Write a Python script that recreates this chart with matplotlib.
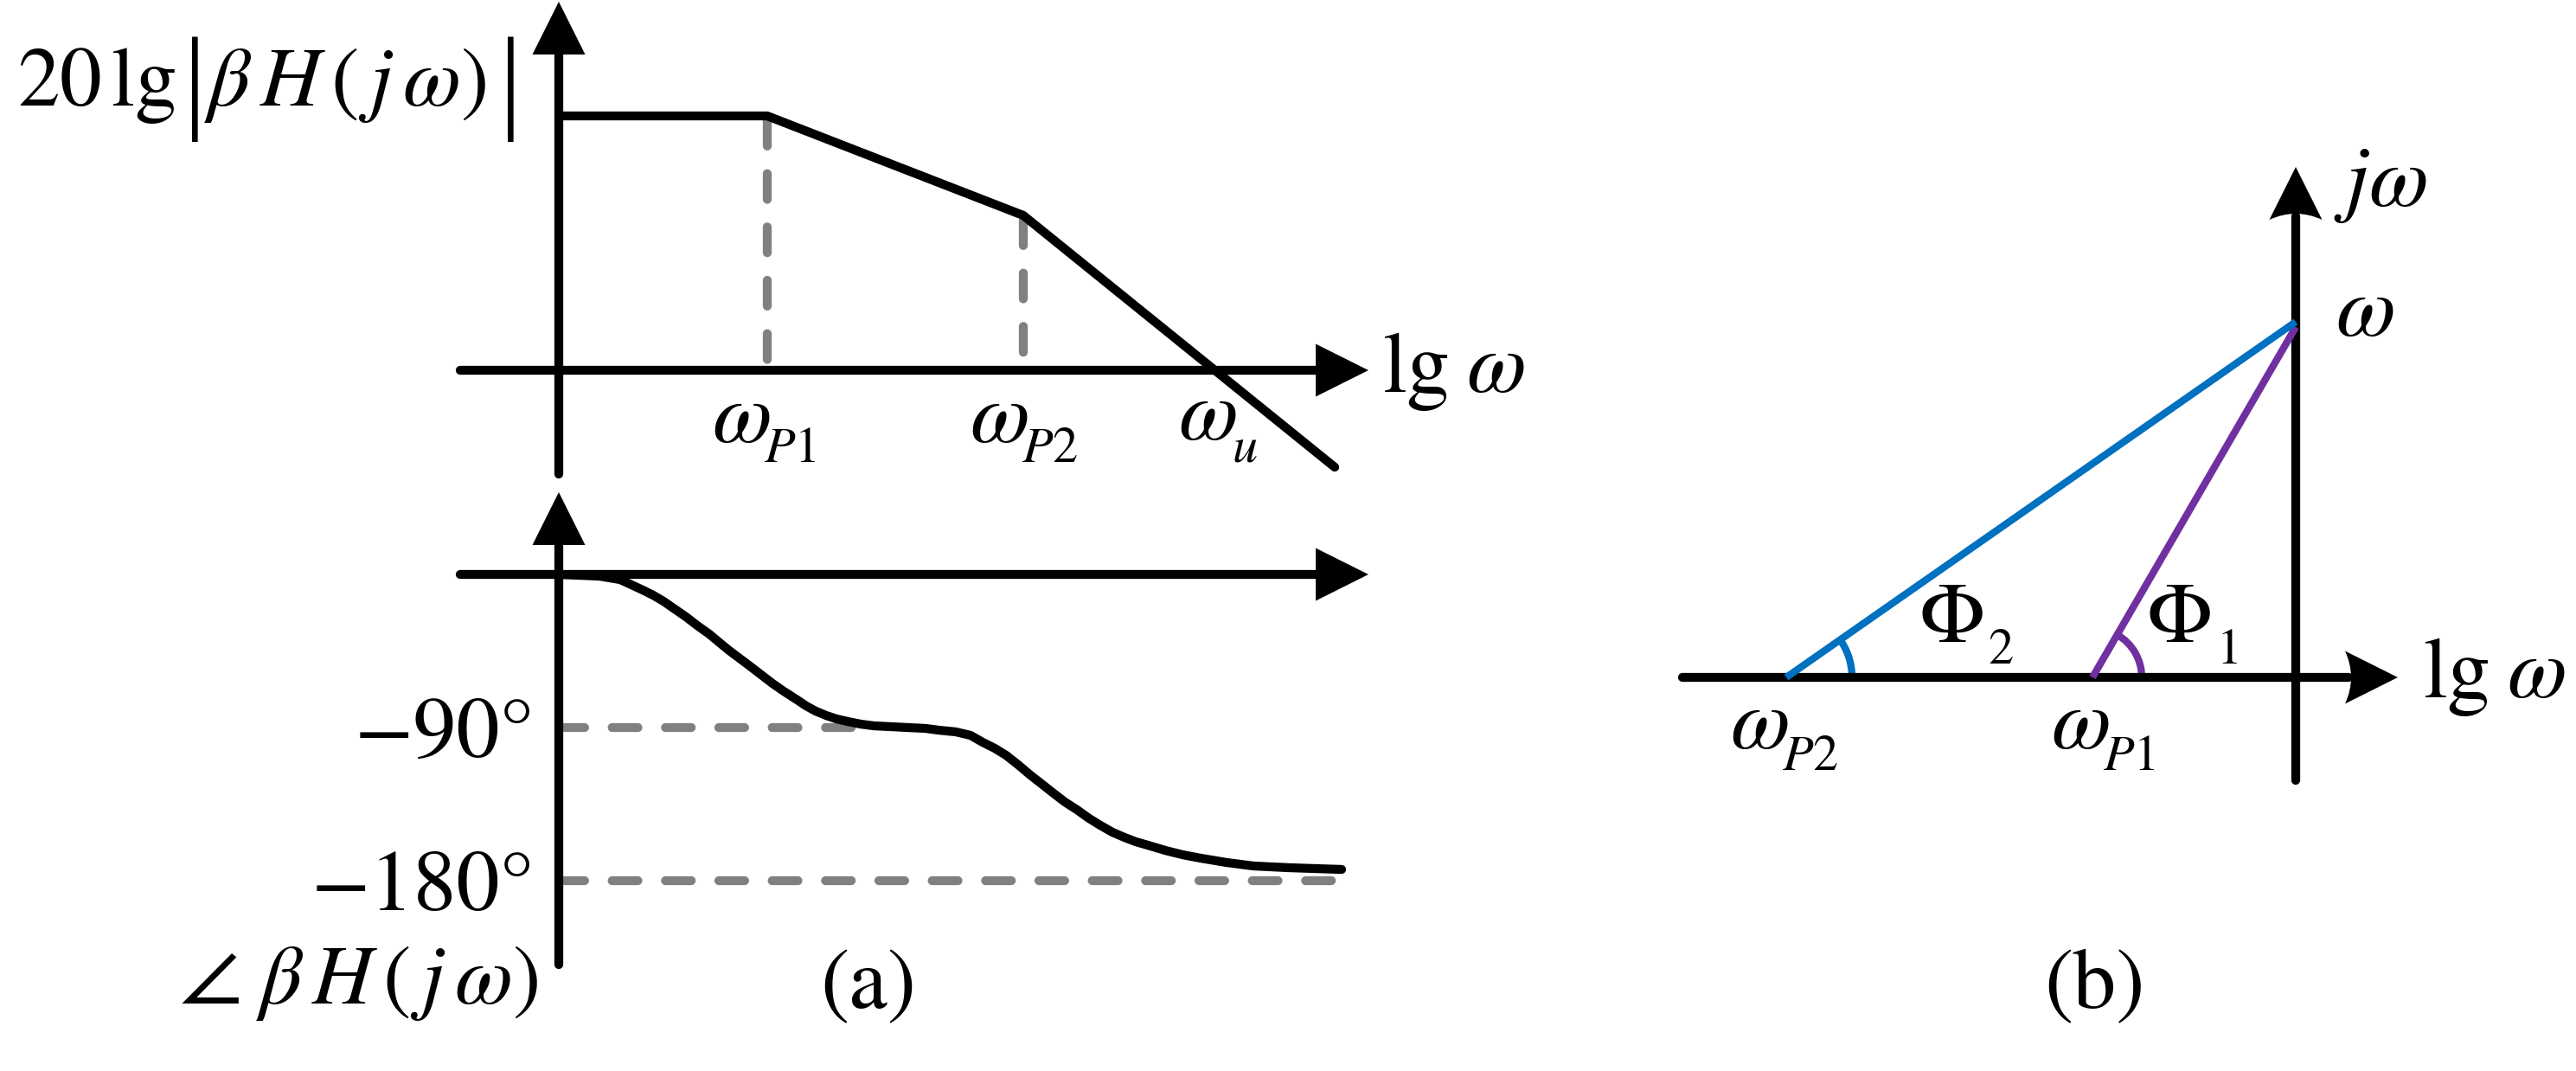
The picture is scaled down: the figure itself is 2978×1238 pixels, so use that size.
import numpy as np
import matplotlib.pyplot as plt
from matplotlib.patches import Arc, PathPatch
from matplotlib.path import Path

plt.rcParams['mathtext.fontset'] = 'stix'
plt.rcParams['font.family'] = ['STIXGeneral', 'DejaVu Sans']

# sketch geometry in pixels of the 2978x1238 reference, y grows downward
W, H = 2978, 1238

# panel (a)
axis_x = 646
mag_axis_y = 428
phase_axis_y = 664
h_axis_x = [532, 1582]          # left end, arrow tip
mag_v_axis_y = [548, 2]         # bottom, arrow tip
phase_v_axis_y = [1115, 569]

mag_x = [646, 887, 1183, 1543]
mag_y = [134, 134, 249, 540]

pole_x = [887, 1183]            # omega_P1, omega_P2
pole_y = [134, 249]

phase_x = [646, 670, 693, 705, 717, 730, 743, 755, 767, 780, 793, 806, 820,
           832, 843, 855, 867, 880, 893, 906, 920, 932, 943, 955, 967, 980,
           995, 1010, 1030, 1050, 1070, 1085, 1105, 1122, 1136, 1150, 1163,
           1177, 1190, 1204, 1218, 1231, 1245, 1259, 1272, 1286, 1300, 1313,
           1327, 1347, 1367, 1388, 1418, 1449, 1490, 1551]
phase_y = [664, 665, 666, 668, 670, 676, 682, 688, 695, 704, 713, 723, 733,
           743, 752, 761, 770, 780, 790, 799, 808, 816, 822, 827, 831, 834,
           837, 839, 840, 841, 842, 844, 846, 850, 858, 865, 873,
           884, 895, 906, 917, 927, 936, 946, 954, 962, 968, 973,
           977, 983, 988, 992, 997, 1001, 1003, 1005]

ref_labels = ['\u221290\u00b0', '\u2212180\u00b0']
ref_y = [841, 1018]
ref_end_x = [1000, 1551]

# panel (b)
b_x0 = 2654
b_y0 = 783
b_h_axis_x = [1945, 2772]
b_v_axis_y = [902, 193]
b_pole_x = [2419, 2065]         # omega_P1 (purple), omega_P2 (blue)
b_omega_y = [378, 372]
b_colors = ['#7030A0', '#0070C0']
b_arc_r = [57, 76]
b_phi = ['1', '2']

BLACK = 'black'
GRAY = '#808080'
LW = 7.4          # ~10 px
LW_C = 6.0        # coloured lines
FS = 72
FS_SUB = 42

fig = plt.figure(figsize=(W / 100, H / 100), dpi=100)
ax = fig.add_axes([0, 0, 1, 1])
ax.set_xlim(0, W)
ax.set_ylim(H, 0)
ax.axis('off')


def arrow(x0, y0, x1, y1, notch=0.0, length=61, half=30.5):
    d = np.array([x1 - x0, y1 - y0], float)
    d /= np.hypot(*d)
    n = np.array([-d[1], d[0]])
    tip = np.array([x1, y1], float)
    base = tip - length * d
    ax.plot([x0, base[0] + 4 * d[0]], [y0, base[1] + 4 * d[1]], color=BLACK,
            lw=LW, solid_capstyle='round')
    c1 = base + half * n
    c2 = base - half * n
    if notch:
        ctrl = base + 2 * notch * d
        verts = [tip, c1, ctrl, c2, tip]
        codes = [Path.MOVETO, Path.LINETO, Path.CURVE3, Path.CURVE3, Path.CLOSEPOLY]
    else:
        verts = [tip, c1, c2, tip]
        codes = [Path.MOVETO, Path.LINETO, Path.LINETO, Path.CLOSEPOLY]
    ax.add_patch(PathPatch(Path(verts, codes), fc=BLACK, ec='none'))


dash = dict(color=GRAY, lw=LW, linestyle=(0, (2.9, 3.1)), dash_capstyle='round')

# ---- (a) magnitude
for px, py in zip(pole_x, pole_y):
    ax.plot([px, px], [py + 5, mag_axis_y - 2], **dash)
arrow(h_axis_x[0], mag_axis_y, h_axis_x[1], mag_axis_y)
arrow(axis_x, mag_v_axis_y[0], axis_x, mag_v_axis_y[1])
ax.plot(mag_x, mag_y, color=BLACK, lw=LW, solid_capstyle='round')

# ---- (a) phase
for lab, ry, rx in zip(ref_labels, ref_y, ref_end_x):
    ax.plot([axis_x, rx], [ry, ry], **dash)
    ax.text(618, ry + 34, lab, fontsize=FS, ha='right', va='baseline')
arrow(h_axis_x[0], phase_axis_y, h_axis_x[1], phase_axis_y)
arrow(axis_x, phase_v_axis_y[0], axis_x, phase_v_axis_y[1])
ax.plot(phase_x, phase_y, color=BLACK, lw=LW, solid_capstyle='round')

# ---- (a) text
ax.text(20, 122, r'$\mathrm{20\,lg}$', fontsize=FS - 2, ha='left', va='baseline')
for bx in [225, 590]:
    ax.text(bx, 136, '|', fontsize=96, family='Liberation Serif',
            ha='center', va='baseline')
ax.text(236, 122, r'$\beta\,H\,(\,j\,\omega)$', fontsize=FS - 2, ha='left', va='baseline')
ax.text(1598, 453, r'$\mathrm{lg}\;\omega$', fontsize=FS, ha='left', va='baseline')
for lx, sub in zip([823, 1121], ['P1', 'P2']):
    ax.text(lx, 511, r'$\omega$', fontsize=FS, ha='left', va='baseline')
    ax.text(lx + 60, 534, r'$P$' + sub[1], fontsize=FS_SUB, ha='left', va='baseline')
ax.text(1362, 508, r'$\omega$', fontsize=FS, ha='left', va='baseline')
ax.text(1424, 534, r'$u$', fontsize=FS_SUB, ha='left', va='baseline')
ax.text(207, 1160, r'$\angle$', fontsize=FS + 4, ha='left', va='baseline')
ax.text(622, 1160, r'$\beta\,H\,(\,j\,\omega)$', fontsize=FS - 2, ha='right', va='baseline')
ax.text(1004, 1165, '(a)', fontsize=FS, ha='center', va='baseline')

# ---- (b)
arrow(b_h_axis_x[0], b_y0, b_h_axis_x[1], b_y0, notch=7)
arrow(b_x0, b_v_axis_y[0], b_x0, b_v_axis_y[1], notch=7)
for px, oy, col, r in zip(b_pole_x, b_omega_y, b_colors, b_arc_r):
    ax.plot([px, b_x0], [b_y0, oy], color=col, lw=LW_C, solid_capstyle='butt')
    ang = np.degrees(np.arctan2(oy - b_y0, b_x0 - px))
    ax.add_patch(Arc((px, b_y0), 2 * r, 2 * r, theta1=ang, theta2=0,
                     color=col, lw=LW_C))

ax.text(2698, 238, r'$j\omega$', fontsize=FS, ha='left', va='baseline')
ax.text(2700, 388, r'$\omega$', fontsize=FS, ha='left', va='baseline')
ax.text(2801, 806, r'$\mathrm{lg}\;\omega$', fontsize=FS, ha='left', va='baseline')
for lx, sx, sub in zip([2481, 2218], [2563, 2298], b_phi):
    ax.text(lx, 742, r'$\Phi$', fontsize=FS, ha='left', va='baseline')
    ax.text(sx, 767, sub, fontsize=FS_SUB, ha='left', va='baseline')
for lx, sub in zip([2371, 2000], ['1', '2']):
    ax.text(lx, 865, r'$\omega$', fontsize=FS, ha='left', va='baseline')
    ax.text(lx + 60, 890, r'$P$' + sub, fontsize=FS_SUB, ha='left', va='baseline')
ax.text(2421, 1165, '(b)', fontsize=FS, ha='center', va='baseline')

fig.savefig('out.png', dpi=100)
